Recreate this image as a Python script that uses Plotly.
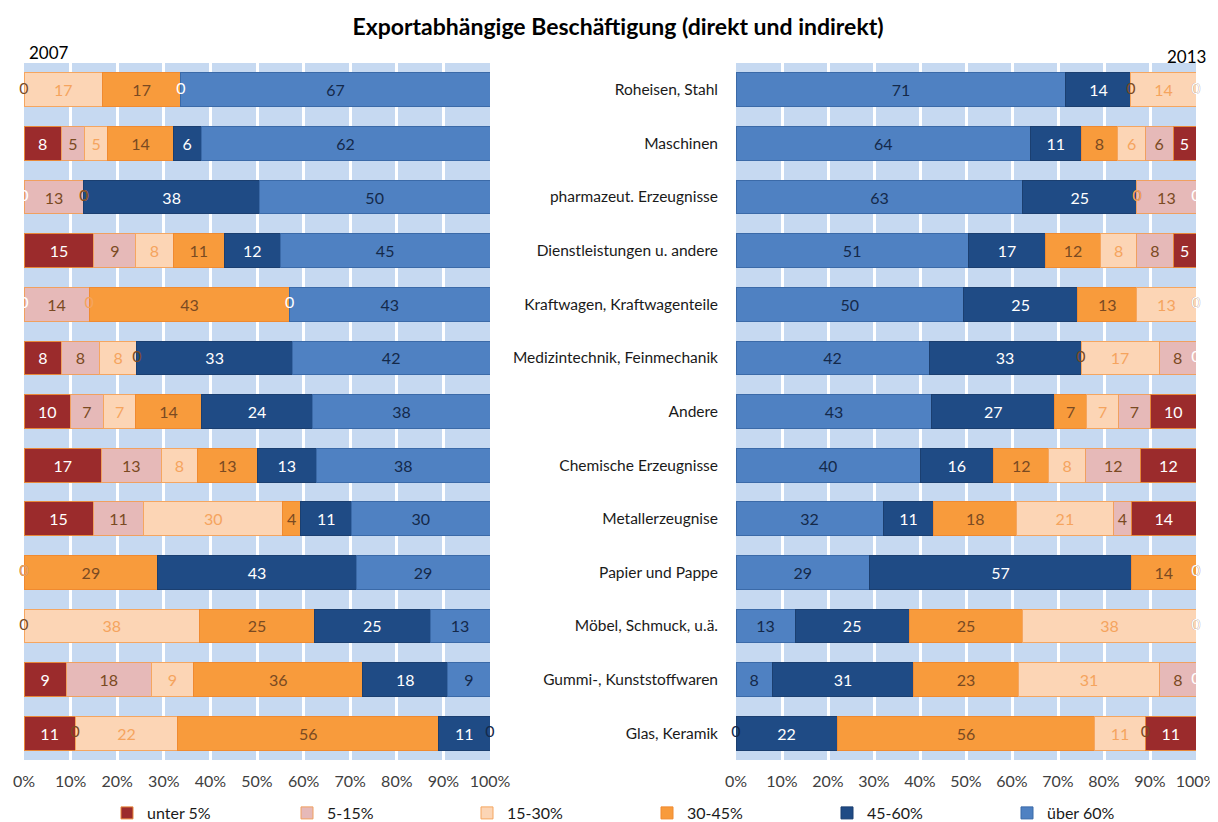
import plotly.graph_objects as go

categories = ["Roheisen, Stahl", "Maschinen", "pharmazeut. Erzeugnisse",
              "Dienstleistungen u. andere", "Kraftwagen, Kraftwagenteile",
              "Medizintechnik, Feinmechanik", "Andere", "Chemische Erzeugnisse",
              "Metallerzeugnise", "Papier und Pappe", "Möbel, Schmuck, u.ä.",
              "Gummi-, Kunststoffwaren", "Glas, Keramik"]

series_names = ["unter 5%", "5-15%", "15-30%", "30-45%", "45-60%", "über 60%"]

# 2007 values per series (rows in category order)
y2007_unter5 = [0, 8, 0, 15, 0, 8, 10, 17, 15, 0, 0, 9, 11]
y2007_5_15 = [0, 5, 13, 9, 14, 8, 7, 13, 11, 0, 0, 18, 0]
y2007_15_30 = [17, 5, 0, 8, 0, 8, 7, 8, 30, 0, 38, 9, 22]
y2007_30_45 = [17, 14, 0, 11, 43, 0, 14, 13, 4, 29, 25, 36, 56]
y2007_45_60 = [0, 6, 38, 12, 0, 33, 24, 13, 11, 43, 25, 18, 11]
y2007_ueber60 = [67, 62, 50, 45, 43, 42, 38, 38, 30, 29, 13, 9, 0]

# 2013 values per series
y2013_unter5 = [0, 5, 0, 5, 0, 0, 10, 12, 14, 0, 0, 0, 11]
y2013_5_15 = [0, 6, 13, 8, 0, 8, 7, 12, 4, 0, 0, 8, 0]
y2013_15_30 = [14, 6, 0, 8, 13, 17, 7, 8, 21, 0, 38, 31, 11]
y2013_30_45 = [0, 8, 0, 12, 13, 0, 7, 12, 18, 14, 25, 23, 56]
y2013_45_60 = [14, 11, 25, 17, 25, 33, 27, 16, 11, 57, 25, 31, 22]
y2013_ueber60 = [71, 64, 63, 51, 50, 42, 43, 40, 32, 29, 13, 8, 0]

x_tick_values = [0, 10, 20, 30, 40, 50, 60, 70, 80, 90, 100]
x_tick_labels = ["0%", "10%", "20%", "30%", "40%", "50%", "60%", "70%", "80%", "90%", "100%"]

data2007 = [y2007_unter5, y2007_5_15, y2007_15_30, y2007_30_45, y2007_45_60, y2007_ueber60]
data2013 = [y2013_unter5, y2013_5_15, y2013_15_30, y2013_30_45, y2013_45_60, y2013_ueber60]

fill_colors = ["#9b2b2c", "#e6b9b8", "#fcd5b5", "#f89b3c", "#1f4b85", "#4f81c2"]
line_colors = ["#e8883a", "#f0a060", "#f5a660", "#f08a30", "#1b3f70", "#3b6aa8"]
text_colors = ["#ffffff", "#7a4a22", "#f5a45e", "#7a4a22", "#ffffff", "#14294a"]

FONT = "Lato"
W, H = 1210, 814  # page body has an 8px margin; figure fills the rest of the window

fig = go.Figure()


def add_panel(data, order, xa, ya, legend):
    n = len(categories)
    totals = [sum(d[i] for d in data) for i in range(n)]
    cum = [0.0] * n
    for s in order:
        vals = data[s]
        fig.add_trace(go.Bar(
            name=series_names[s], y=categories, x=vals, orientation="h",
            xaxis=xa, yaxis=ya, legendrank=s + 1, showlegend=legend,
            marker=dict(color=fill_colors[s], line=dict(color=line_colors[s], width=1)),
            text=[str(v) if v != 0 else "" for v in vals],
            textposition="inside", insidetextanchor="middle", textangle=0,
            constraintext="none", cliponaxis=False,
            insidetextfont=dict(family=FONT, size=16, color=text_colors[s]),
            hoverinfo="skip",
        ))
        zx, zy = [], []
        for i in range(n):
            if vals[i] == 0:
                zx.append(cum[i] / totals[i] * 100)
                zy.append(categories[i])
            cum[i] += vals[i]
        if zx:
            fig.add_trace(go.Scatter(
                x=zx, y=zy, mode="text", text=["0"] * len(zx), xaxis=xa, yaxis=ya,
                textfont=dict(family=FONT, size=16, color=text_colors[s]),
                showlegend=False, cliponaxis=False, hoverinfo="skip",
            ))


add_panel(data2007, [0, 1, 2, 3, 4, 5], "x", "y", True)
add_panel(data2013, [5, 4, 3, 2, 1, 0], "x2", "y2", False)

ydom = [1 - 752 / H, 1 - 55 / H]
yrange = [len(categories) - 0.5, -0.5]
xaxis_common = dict(range=[0, 100.001], tickmode="array", tickvals=x_tick_values,
                    ticktext=x_tick_labels,
                    showgrid=True, gridcolor="#ffffff", gridwidth=3, zeroline=False,
                    showline=False, tickfont=dict(family=FONT, size=16, color="#404040"),
                    ticks="", ticklabelstandoff=10, fixedrange=True, automargin=False)
fig.update_layout(
    width=W, height=H,
    margin=dict(l=0, r=0, t=0, b=0, autoexpand=False),
    paper_bgcolor="#ffffff", plot_bgcolor="#c6d9f1",
    barmode="stack", barnorm="percent", bargap=0.37,
    font=dict(family=FONT, color="#000000"),
    xaxis=dict(domain=[16 / W, 482 / W], anchor="y", **xaxis_common),
    xaxis2=dict(domain=[728 / W, 1188 / W], anchor="y2", **xaxis_common),
    yaxis=dict(domain=ydom, anchor="x", categoryorder="array", categoryarray=categories,
               range=yrange, showticklabels=False, showgrid=False, automargin=False,
               fixedrange=True),
    yaxis2=dict(domain=ydom, anchor="x2", categoryorder="array", categoryarray=categories,
                range=yrange, showgrid=False, ticklabelstandoff=17, automargin=False,
                fixedrange=True, tickfont=dict(family=FONT, size=15.5, color="#1a1a1a")),
    title=dict(text="<b>Exportabhängige Beschäftigung (direkt und indirekt)</b>",
               x=610 / W, xanchor="center", y=1 - 19 / H, yanchor="middle",
               xref="paper", yref="container",
               font=dict(family=FONT, size=23, color="#000000")),
    legend=dict(orientation="h", x=99 / W, xanchor="left", y=1 - 805 / H, yanchor="middle",
                entrywidth=135, entrywidthmode="pixels", traceorder="normal",
                font=dict(family=FONT, size=16, color="#1a1a1a"), itemclick=False),
    annotations=[
        dict(text="2007", x=19 / W, y=1 - 44 / H, xref="paper", yref="paper",
             xanchor="left", yanchor="middle", showarrow=False,
             font=dict(family=FONT, size=17, color="#000000")),
        dict(text="2013", x=1200 / W, y=1 - 49 / H, xref="paper", yref="paper",
             xanchor="right", yanchor="middle", showarrow=False,
             font=dict(family=FONT, size=17, color="#000000")),
    ],
)

fig.write_html("out.html")
